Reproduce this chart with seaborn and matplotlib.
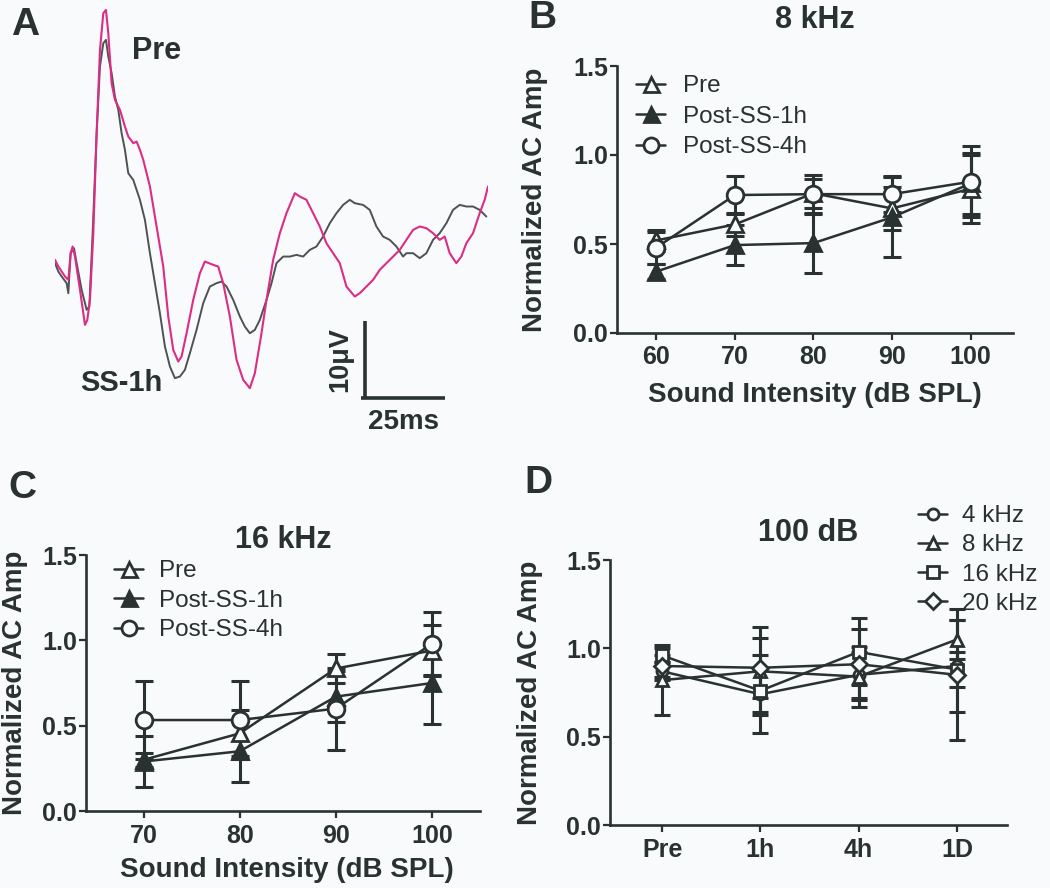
import matplotlib
matplotlib.use("Agg")
import matplotlib.pyplot as plt
import seaborn as sns
from matplotlib.ticker import FormatStrFormatter

# ---------------- Panel A : averaged traces (time in ms, amplitude in uV) ----------------
pre_t = [0, 1.0, 2.0, 3.0, 4.0, 4.7, 5.3, 6.0, 7.5, 9.0, 9.7, 10.5, 11.5, 12.5, 13.5, 14.5, 15.3,
         16.0, 17.0, 18.0, 19.5, 21.0, 22.0, 23.5, 24.5, 25.5, 26.5, 28.5, 30.5, 32.5, 34.0, 35.5,
         37.0, 38.0, 39.5, 41.5, 43.5, 45.0, 47.5, 49.0, 50.5, 52.5, 54.5, 56.5, 58.5, 60.0, 62.0,
         63.5, 65.5, 67.5, 69.5, 72.0, 73.5, 75.5, 77.5, 79.5, 81.5, 83.5, 85.5, 87.5, 90.0, 91.5,
         93.5, 95.5, 97.5, 99.5, 101.5, 103.5, 105.5, 107.5, 109.5, 111.5, 113.5, 115.5, 117.0,
         118.5, 120.5, 122.0, 123.5, 125.5, 127.5, 129.0, 130.0]
pre_uv = [0, -0.87, -1.52, -2.17, -2.61, 0.87, 1.74, 0.43, -3.91, -8.48, -7.83, -5.22, 3.48, 16.52,
          27.39, 32.17, 32.61, 29.57, 23.04, 20.87, 19.57, 17.39, 16.09, 15.22, 15.43, 14.35, 13.04,
          9.57, 4.35, -0.87, -7.39, -11.74, -13.26, -12.61, -9.57, -5.22, -1.74, -0.22, -0.65, -0.87,
          -3.04, -7.39, -13.04, -15.65, -16.74, -14.78, -9.57, -5.22, 0.0, 3.48, 6.09, 8.70, 8.26,
          7.83, 6.09, 4.35, 2.17, 0.87, -0.43, -3.48, -4.78, -4.35, -3.48, -2.61, -1.30, -0.43, 0.43,
          1.30, 2.61, 3.91, 4.35, 4.13, 3.48, 2.61, 3.04, 0.87, -0.43, 0.43, 2.17, 3.48, 6.09, 7.83,
          9.57]
ss1h_t = [0, 1.0, 2.0, 3.5, 4.0, 4.7, 5.7, 6.5, 8.0, 9.5, 10.3, 11.3, 12.5, 13.5, 14.5, 15.3, 16.0,
          17.0, 18.0, 19.0, 20.0, 21.0, 22.0, 23.5, 24.5, 25.5, 27.0, 28.5, 30.0, 31.5, 33.0, 34.5,
          36.0, 37.5, 39.0, 40.5, 42.5, 44.5, 46.5, 48.5, 50.0, 51.5, 53.5, 55.5, 57.0, 58.5, 60.0,
          61.5, 63.5, 65.0, 66.5, 68.5, 70.5, 72.5, 74.5, 76.5, 78.5, 80.5, 82.5, 84.5, 86.5, 88.5,
          90.0, 92.5, 94.5, 96.5, 98.5, 100.5, 102.5, 104.5, 105.5, 107.5, 109.5, 111.5, 113.5,
          115.5, 117.5, 119.5, 121.5, 123.5, 125.5, 127.5, 129.5]
ss1h_uv = [-0.43, -1.52, -2.17, -3.04, -4.35, 0.87, 1.52, -0.43, -3.91, -6.52, -6.09, 3.48, 16.52,
           25.22, 28.26, 28.70, 26.52, 24.35, 21.30, 19.57, 16.52, 14.35, 11.30, 10.43, 9.13, 7.83,
           5.22, 0.87, -3.04, -6.96, -11.30, -13.91, -15.43, -15.22, -14.35, -12.17, -9.13, -5.65,
           -3.48, -3.04, -2.83, -3.48, -5.22, -7.39, -8.70, -9.57, -9.13, -7.83, -5.22, -3.04, -0.43,
           0.43, 0.43, 0.65, 0.43, 1.30, 1.74, 3.04, 4.78, 6.09, 7.17, 7.83, 7.39, 7.17, 6.52, 4.35,
           3.04, 2.61, 1.74, 0.43, 0.87, 0.87, 0.22, 0.87, 2.61, 3.48, 4.78, 6.52, 7.17, 6.96, 6.96,
           6.52, 5.65]
scale_t0, scale_v0 = 93.0, -18.0      # scale bar corner
scale_ms, scale_uv = 25.0, 10.0       # scale bar lengths

# ---------------- Panel B : 8 kHz ----------------
b_levels = [60, 70, 80, 90, 100]
b_pre = [0.52, 0.61, 0.785, 0.70, 0.81]
b_pre_err = [0.06, 0.065, 0.08, 0.12, 0.19]
b_post1h = [0.345, 0.494, 0.505, 0.65, 0.84]
b_post1h_err = [0.04, 0.11, 0.17, 0.225, 0.17]
b_post4h = [0.48, 0.775, 0.78, 0.78, 0.85]
b_post4h_err = [0.09, 0.105, 0.11, 0.10, 0.20]

# ---------------- Panel C : 16 kHz ----------------
c_levels = [70, 80, 90, 100]
c_pre = [0.30, 0.455, 0.835, 0.94]
c_pre_err = [0.04, 0.135, 0.085, 0.15]
c_post1h = [0.29, 0.35, 0.67, 0.75]
c_post1h_err = [0.15, 0.18, 0.15, 0.24]
c_post4h = [0.533, 0.533, 0.60, 0.98]
c_post4h_err = [0.23, 0.23, 0.24, 0.185]

# ---------------- Panel D : 100 dB ----------------
d_times = ["Pre", "1h", "4h", "1D"]
d_4k = [0.87, 0.74, 0.85, 0.90]
d_4k_err = [0.05, 0.22, 0.13, 0.26]
d_8k = [0.82, 0.87, 0.84, 1.05]
d_8k_err = [0.20, 0.25, 0.17, 0.11]
d_16k = [0.96, 0.76, 0.98, 0.88]
d_16k_err = [0.04, 0.12, 0.19, 0.10]
d_20k = [0.90, 0.89, 0.91, 0.85]
d_20k_err = [0.06, 0.17, 0.20, 0.37]

yticks = [0.0, 0.5, 1.0, 1.5]

# ---------------- style ----------------
sns.set_theme(style="ticks")
plt.rcParams['font.family'] = ['Liberation Sans', 'DejaVu Sans']
INK = '#293131'
BG = '#f8fafc'
PINK = '#dc2c86'
GRAY = '#4e5252'
plt.rcParams.update({
    'text.color': INK, 'axes.labelcolor': INK, 'xtick.color': INK, 'ytick.color': INK,
    'axes.edgecolor': INK, 'axes.facecolor': BG, 'figure.facecolor': BG,
})

W, H = 1050, 888
fig = plt.figure(figsize=(W / 100, H / 100), dpi=100, facecolor=BG)

TICK_FS = 18
LAB_FS = 20
TITLE_FS = 22
LEG_FS = 17.5


def ax_at(l, t, r, b):
    return fig.add_axes([l / W, 1 - b / H, (r - l) / W, (b - t) / H])


def style_axis(ax, ylab_x):
    for s in ['top', 'right']:
        ax.spines[s].set_visible(False)
    for s in ['left', 'bottom']:
        ax.spines[s].set_linewidth(1.9)
        ax.spines[s].set_color(INK)
    ax.set_ylim(0, 1.5)
    ax.set_yticks(yticks)
    ax.yaxis.set_major_formatter(FormatStrFormatter('%.1f'))
    ax.tick_params(axis='both', direction='out', length=5, width=1.6, labelsize=TICK_FS, colors=INK)
    ax.tick_params(axis='y', pad=1.5)
    ax.tick_params(axis='x', pad=4)
    for lab in ax.get_xticklabels() + ax.get_yticklabels():
        lab.set_fontweight('bold')
    ax.set_ylabel('Normalized AC Amp', fontsize=LAB_FS, fontweight='bold')
    ax.yaxis.set_label_coords(ylab_x, 0.5)


def series(ax, x, y, err, marker, filled, label, ms=12, cap=6.5):
    ax.errorbar(x, y, yerr=err, fmt='none', ecolor=INK, elinewidth=2.2, capsize=cap,
                capthick=2.2, zorder=2)
    sns.lineplot(x=x, y=y, ax=ax, color=INK, linewidth=1.8, marker=marker, markersize=ms,
                 markerfacecolor=INK if filled else BG, markeredgecolor=INK,
                 markeredgewidth=2.0, label=label, legend=False, errorbar=None, sort=False,
                 zorder=3)


# ---------------- Panel A ----------------
axA = ax_at(55, 0, 488, 440)
sns.lineplot(x=ss1h_t, y=ss1h_uv, ax=axA, color=GRAY, linewidth=1.4, sort=False,
             estimator=None, legend=False)
sns.lineplot(x=pre_t, y=pre_uv, ax=axA, color=PINK, linewidth=1.5, sort=False,
             estimator=None, legend=False)
axA.plot([scale_t0, scale_t0], [scale_v0, scale_v0 + scale_uv], color=INK, lw=2.6,
         solid_capstyle='butt')
axA.plot([scale_t0 - 1, scale_t0 - 1 + scale_ms], [scale_v0, scale_v0], color=INK, lw=2.6,
         solid_capstyle='butt')
axA.set_xlim(0, 130)
axA.set_ylim(-23.5, 33.9)
axA.axis('off')
axA.text(30.5, 27.2, 'Pre', fontsize=22, fontweight='bold', ha='center', va='center')
axA.text(20.0, -16.1, 'SS-1h', fontsize=21, fontweight='bold', ha='center', va='center')
axA.text(85.5, -13.0, '10\u03bcV', fontsize=19.5, fontweight='bold', ha='center', va='center',
         rotation=90)
axA.text(104.5, -21.1, '25ms', fontsize=20, fontweight='bold', ha='center', va='center')

# ---------------- Panel B ----------------
axB = ax_at(617, 66, 1013, 333)
series(axB, b_levels, b_pre, b_pre_err, '^', False, 'Pre')
series(axB, b_levels, b_post1h, b_post1h_err, '^', True, 'Post-SS-1h')
series(axB, b_levels, b_post4h, b_post4h_err, 'o', False, 'Post-SS-4h')
axB.set_xlim(55, 105.4)
axB.set_xticks(b_levels)
style_axis(axB, -0.174)
axB.set_xlabel('Sound Intensity (dB SPL)', fontsize=LAB_FS, fontweight='bold')
axB.xaxis.set_label_coords(0.5, -0.185)
axB.set_title('8 kHz', fontsize=TITLE_FS, fontweight='bold', pad=27)
axB.legend(loc='upper left', bbox_to_anchor=(636 / W, 1 - 75 / H), bbox_transform=fig.transFigure,
           frameon=False, fontsize=LEG_FS, handlelength=1.2, handletextpad=0.75, labelspacing=0.35,
           borderpad=0, borderaxespad=0, markerscale=0.9)

# ---------------- Panel C ----------------
axC = ax_at(86, 555, 480, 811)
series(axC, c_levels, c_pre, c_pre_err, '^', False, 'Pre')
series(axC, c_levels, c_post1h, c_post1h_err, '^', True, 'Post-SS-1h')
series(axC, c_levels, c_post4h, c_post4h_err, 'o', False, 'Post-SS-4h')
axC.set_xlim(64, 105)
axC.set_xticks(c_levels)
style_axis(axC, -0.147)
axC.set_xlabel('Sound Intensity (dB SPL)', fontsize=LAB_FS, fontweight='bold')
axC.xaxis.set_label_coords(0.511, -0.18)
axC.set_title('16 kHz', fontsize=TITLE_FS, fontweight='bold', pad=3)
axC.legend(loc='upper left', bbox_to_anchor=(114 / W, 1 - 560 / H), bbox_transform=fig.transFigure,
           frameon=False, fontsize=LEG_FS, handlelength=1.2, handletextpad=0.65, labelspacing=0.31,
           borderpad=0, borderaxespad=0, markerscale=0.9)

# ---------------- Panel D ----------------
axD = ax_at(610, 560, 1007, 825)
series(axD, d_times, d_4k, d_4k_err, 'o', False, '4 kHz', ms=8, cap=5.5)
series(axD, d_times, d_8k, d_8k_err, '^', False, '8 kHz', ms=8, cap=5.5)
series(axD, d_times, d_16k, d_16k_err, 's', False, '16 kHz', ms=8, cap=5.5)
series(axD, d_times, d_20k, d_20k_err, 'D', False, '20 kHz', ms=8, cap=5.5)
axD.set_xlim(-0.53, 3.51)
style_axis(axD, -0.169)
axD.set_xlabel('')
axD.set_title('100 dB', fontsize=TITLE_FS, fontweight='bold', pad=13.5)
axD.legend(loc='upper left', bbox_to_anchor=(918 / W, 1 - 505 / H), bbox_transform=fig.transFigure,
           frameon=False, fontsize=LEG_FS, handlelength=1.2, handletextpad=0.6, labelspacing=0.3,
           borderpad=0, borderaxespad=0)

# ---------------- panel letters ----------------
for letter, px, py in [('A', 25, 25), ('B', 542, 18), ('C', 22, 488), ('D', 538, 483)]:
    fig.text(px / W, 1 - py / H, letter, fontsize=28, fontweight='bold', ha='center',
             va='center', color=INK)

fig.savefig('out.png', dpi=100, facecolor=BG)
